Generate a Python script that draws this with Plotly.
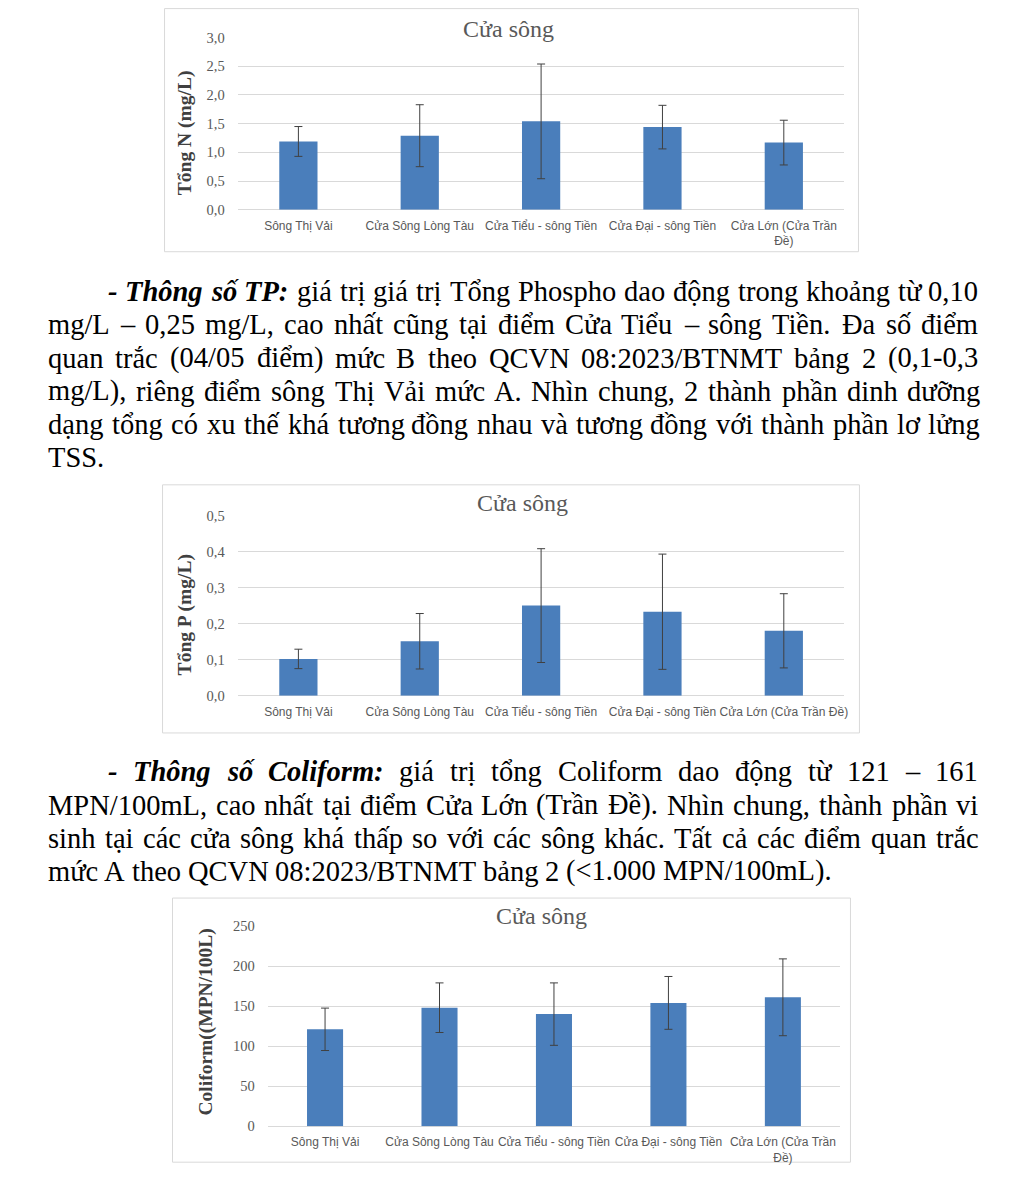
import unicodedata
import plotly.graph_objects as go

PAGE_W, PAGE_H = 1021, 1200
OFF = 8  # default body margin of the html page
W, H = PAGE_W - 2 * OFF, PAGE_H - 2 * OFF
# empirical vertical correction of the photographed page
VS, VO = 0.986, 8.5

# ---------------- data ----------------
cats_a = ["Sông Thị Vải", "Cửa Sông Lòng Tàu", "Cửa Tiểu - sông Tiền",
          "Cửa Đại - sông Tiền", "Cửa Lớn (Cửa Trần<br>Đề)"]
cats_b = ["Sông Thị Vải", "Cửa Sông Lòng Tàu", "Cửa Tiểu - sông Tiền",
          "Cửa Đại - sông Tiền", "Cửa Lớn (Cửa Trần Đề)"]

tn_mean = [1.19, 1.29, 1.54, 1.44, 1.17]
tn_err = [0.26, 0.54, 1.00, 0.38, 0.39]

tp_mean = [0.102, 0.151, 0.250, 0.233, 0.180]
tp_err = [0.027, 0.077, 0.158, 0.160, 0.103]

col_mean = [121, 148, 140, 154, 161]
col_err = [26.5, 31, 39, 33, 48]

chart_title = "Cửa sông"
ytitle_n = "Tổng N (mg/L)"
ytitle_p = "Tổng P (mg/L)"
ytitle_c = "Coliform((MPN/100L)"

p1_lead = "- Thông số TP:"
p1_lines = [
    "giá trị giá trị Tổng Phospho dao động trong khoảng từ 0,10",
    "mg/L – 0,25 mg/L, cao nhất cũng tại điểm Cửa Tiểu – sông Tiền. Đa số điểm",
    "quan trắc (04/05 điểm) mức B theo QCVN 08:2023/BTNMT bảng 2 (0,1-0,3",
    "mg/L), riêng điểm sông Thị Vải mức A. Nhìn chung, 2 thành phần dinh dưỡng",
    "dạng tổng có xu thế khá tương đồng nhau và tương đồng với thành phần lơ lửng",
    "TSS.",
]
p2_lead = "- Thông số Coliform:"
p2_lines = [
    "giá trị tổng Coliform dao động từ 121 – 161",
    "MPN/100mL, cao nhất tại điểm Cửa Lớn (Trần Đề). Nhìn chung, thành phần vi",
    "sinh tại các cửa sông khá thấp so với các sông khác. Tất cả các điểm quan trắc",
    "mức A theo QCVN 08:2023/BTNMT bảng 2 (<1.000 MPN/100mL).",
]

# ---------------- helpers ----------------
def px(x):
    return (x - OFF) / W


def py(y):
    yin = (y - VO) / VS
    return 1 - (yin - OFF) / H


TIMES = {
    ' ': 250, '!': 333, '(': 333, ')': 333, ',': 250, '-': 333, '.': 250, '/': 278,
    ':': 278, ';': 278, '<': 564, '>': 564, '–': 500,
    'A': 722, 'B': 667, 'C': 667, 'D': 722, 'E': 611, 'F': 556, 'G': 722, 'H': 722,
    'I': 333, 'J': 389, 'K': 722, 'L': 611, 'M': 889, 'N': 722, 'O': 722, 'P': 556,
    'Q': 722, 'R': 667, 'S': 556, 'T': 611, 'U': 722, 'V': 722, 'W': 944, 'X': 722,
    'Y': 722, 'Z': 611,
    'a': 444, 'b': 500, 'c': 444, 'd': 500, 'e': 444, 'f': 333, 'g': 500, 'h': 500,
    'i': 278, 'j': 278, 'k': 500, 'l': 278, 'm': 778, 'n': 500, 'o': 500, 'p': 500,
    'q': 500, 'r': 333, 's': 389, 't': 278, 'u': 500, 'v': 500, 'w': 722, 'x': 500,
    'y': 500, 'z': 444,
}
for d in "0123456789":
    TIMES[d] = 500
TIMES_BI = dict(TIMES)
TIMES_BI.update({'-': 333, 'T': 611, 'h': 556, 'n': 556, 'P': 611, ':': 333,
                 'r': 389, 'C': 667, 'm': 778, 'g': 500, 'o': 500})


def base(ch):
    if ch == 'đ':
        return 'd'
    if ch == 'Đ':
        return 'D'
    return unicodedata.normalize('NFD', ch)[0]


def wwidth(word, table, fs):
    return sum(table.get(base(c), 500) for c in word) * fs / 1000.0


FS = 28.5
SERIF = "Liberation Serif, Times New Roman, serif"
SANS = "Liberation Sans, Arial, sans-serif"
LEFT, RIGHT, INDENT = 47, 980, 107

annotations = []


def add_line(words, ycen, left, justify):
    widths = [wwidth(w, TIMES_BI if s == 'bi' else TIMES, FS) for w, s in words]
    total = sum(widths)
    n = len(words)
    if justify and n > 1:
        gap = (RIGHT - left - total) / (n - 1)
    else:
        gap = TIMES[' '] * FS / 1000.0
    x = left
    for (w, s), wd in zip(words, widths):
        txt = f"<b><i>{w}</i></b>" if s == 'bi' else w
        annotations.append(dict(
            x=px(x - 1), y=py(ycen), xref='paper', yref='paper', text=txt,
            showarrow=False, xanchor='left', yanchor='middle',
            font=dict(family=SERIF, size=FS, color='black')))
        x += wd + gap


def add_paragraph(lead, lines, y0, step):
    for i, line in enumerate(lines):
        words = [(w, 'r') for w in line.split()]
        left = LEFT
        if i == 0:
            words = [(w, 'bi') for w in lead.split()] + words
            left = INDENT
        add_line(words, y0 + i * step, left, i < len(lines) - 1)


add_paragraph(p1_lead, p1_lines, 292, 33.2)
add_paragraph(p2_lead, p2_lines, 772, 33.0)

# ---------------- charts ----------------
BAR = '#4a7ebb'
GRID = '#d9d9d9'
GRAYTXT = '#595959'

charts = [
    dict(cats=cats_a, mean=tn_mean, err=tn_err, x0=238.4, x1=847, yt=38, yb=210,
         rng=[0, 3], dtick=0.5, fmt='.1f', tx=510, ty=29, yt_text=ytitle_n, ytx=185, yty=133,
         box=(165, 9, 861, 252)),
    dict(cats=cats_b, mean=tp_mean, err=tp_err, x0=238.4, x1=847, yt=515.7, yb=695.7,
         rng=[0, 0.5], dtick=0.1, fmt='.1f', tx=524, ty=503, yt_text=ytitle_p, ytx=185, yty=615,
         box=(163, 485, 862, 733)),
    dict(cats=cats_a, mean=col_mean, err=col_err, x0=268.6, x1=842.6, yt=926, yb=1126,
         rng=[0, 250], dtick=50, fmt='d', tx=543, ty=916, yt_text=ytitle_c, ytx=207, yty=1022,
         box=(173, 898, 853, 1162)),
]

fig = go.Figure()
shapes = []
layout_axes = {}
for i, c in enumerate(charts, start=1):
    xa = 'x' if i == 1 else f'x{i}'
    ya = 'y' if i == 1 else f'y{i}'
    fig.add_trace(go.Bar(
        x=c['cats'], y=c['mean'], xaxis=xa, yaxis=ya, marker_color=BAR,
        marker_line_width=0,
        error_y=dict(type='data', array=c['err'], visible=True, color='#404040',
                     thickness=1, width=4),
        showlegend=False, hoverinfo='skip'))
    xkey = 'xaxis' if i == 1 else f'xaxis{i}'
    ykey = 'yaxis' if i == 1 else f'yaxis{i}'
    layout_axes[xkey] = dict(
        domain=[px(c['x0']), px(c['x1'])], anchor=ya, showgrid=False, zeroline=False,
        showline=False, ticks='', tickfont=dict(family=SANS, size=12, color=GRAYTXT),
        ticklabelstandoff=7, tickangle=0, fixedrange=True)
    layout_axes[ykey] = dict(
        domain=[py(c['yb']), py(c['yt'])], anchor=xa, range=c['rng'], dtick=c['dtick'],
        tick0=0, tickformat=c['fmt'], showgrid=True, gridcolor=GRID, gridwidth=1,
        zeroline=True, zerolinecolor=GRID, zerolinewidth=1, showline=False, ticks='',
        tickfont=dict(family=SERIF, size=14.5, color=GRAYTXT), ticklabelstandoff=12,
        fixedrange=True)
    bx0, by0, bx1, by1 = c['box']
    shapes.append(dict(type='rect', xref='paper', yref='paper', x0=px(bx0), x1=px(bx1),
                       y0=py(by1), y1=py(by0), line=dict(color=GRID, width=1),
                       fillcolor='rgba(0,0,0,0)', layer='below'))
    annotations.append(dict(x=px(c['tx']), y=py(c['ty']), xref='paper', yref='paper',
                            text=chart_title, showarrow=False, xanchor='center',
                            yanchor='middle',
                            font=dict(family=SERIF, size=24, color=GRAYTXT)))
    annotations.append(dict(x=px(c['ytx']), y=py(c['yty']), xref='paper', yref='paper',
                            text=f"<b>{c['yt_text']}</b>", showarrow=False,
                            xanchor='center', yanchor='middle', textangle=-90,
                            font=dict(family=SERIF, size=19.5, color='#404040')))

fig.update_layout(
    width=W, height=H, margin=dict(l=0, r=0, t=0, b=0),
    paper_bgcolor='white', plot_bgcolor='white', bargap=0.685,
    separators=',.', showlegend=False, annotations=annotations, shapes=shapes,
    **layout_axes)

fig.write_html("out.html")
